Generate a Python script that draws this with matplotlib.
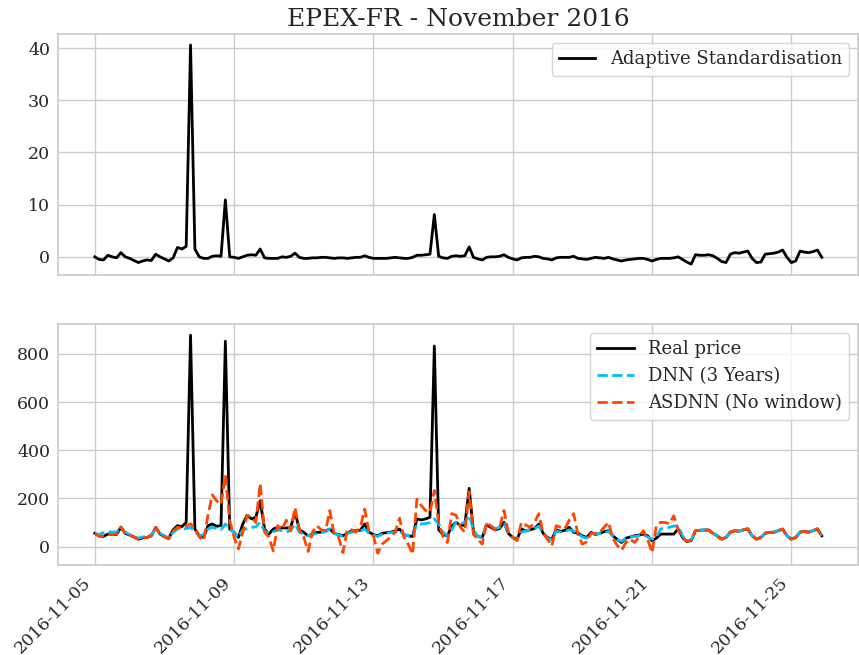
import numpy as np
import pandas as pd
import matplotlib
matplotlib.use('Agg')
import matplotlib.pyplot as plt
import matplotlib.dates as mdates

# 3-hourly samples, 2016-11-05 00:00 -> 2016-11-25 21:00 (8 values per day)
start = '2016-11-05 00:00'
freq = '3h'

adaptive_std = [
    0.0, -0.5, -0.6, 0.3, 0.0, -0.2, 0.8, 0.0,
    -0.3, -0.7, -1.1, -0.8, -0.6, -0.7, 0.5, 0.0,
    -0.4, -0.8, -0.2, 1.8, 1.5, 2.0, 40.6, 1.5,
    0.0, -0.3, -0.3, 0.1, 0.2, 0.1, 10.9, 0.0,
    -0.1, -0.3, 0.0, 0.3, 0.4, 0.3, 1.5, -0.2,
    -0.3, -0.3, -0.3, 0.0, -0.1, 0.1, 0.7, -0.1,
    -0.3, -0.3, -0.2, -0.2, -0.1, -0.1, -0.2, -0.3,
    -0.2, -0.2, -0.3, -0.2, -0.1, -0.1, 0.2, -0.1,
    -0.3, -0.3, -0.3, -0.3, -0.2, -0.1, -0.2, -0.3,
    -0.3, -0.1, 0.3, 0.3, 0.4, 0.5, 8.1, 0.1,
    -0.2, -0.3, 0.1, 0.2, 0.1, 0.2, 1.9, -0.1,
    -0.4, -0.6, -0.1, 0.0, 0.0, 0.1, 0.4, -0.1,
    -0.4, -0.6, -0.2, -0.1, -0.1, 0.1, 0.0, -0.3,
    -0.4, -0.6, -0.2, -0.1, -0.1, -0.1, 0.1, -0.3,
    -0.4, -0.5, -0.3, -0.1, -0.2, -0.3, -0.1, -0.4,
    -0.6, -0.8, -0.6, -0.5, -0.4, -0.3, -0.3, -0.5,
    -0.8, -0.5, -0.3, -0.3, -0.3, -0.2, 0.0, -0.5,
    -1.0, -1.4, 0.4, 0.3, 0.3, 0.4, 0.2, -0.3,
    -0.9, -1.1, 0.5, 0.8, 0.7, 0.9, 1.1, -0.3,
    -1.1, -1.0, 0.5, 0.6, 0.7, 0.9, 1.3, -0.1,
    -1.1, -0.8, 1.1, 0.9, 0.8, 1.0, 1.3, -0.1,
]

real_price = [
    55, 45, 42, 52, 50, 50, 80, 55,
    48, 40, 31, 36, 38, 45, 80, 52,
    42, 35, 70, 87, 83, 100, 878, 73,
    45, 38, 87, 94, 84, 88, 853, 73,
    59, 38, 94, 130, 115, 122, 190, 73,
    52, 73, 80, 78, 77, 80, 144, 70,
    59, 45, 52, 59, 60, 65, 73, 55,
    50, 45, 55, 66, 66, 68, 94, 60,
    50, 45, 55, 58, 60, 65, 73, 50,
    45, 42, 115, 111, 115, 122, 833, 70,
    50, 45, 85, 101, 87, 90, 242, 60,
    42, 38, 90, 80, 69, 75, 101, 55,
    38, 31, 73, 65, 70, 75, 94, 55,
    38, 31, 70, 63, 68, 80, 60, 55,
    45, 38, 59, 50, 55, 62, 66, 45,
    30, 17, 35, 40, 45, 48, 52, 45,
    24, 35, 52, 52, 52, 52, 73, 38,
    21, 25, 66, 68, 69, 69, 55, 45,
    31, 38, 60, 66, 64, 70, 73, 45,
    31, 38, 55, 59, 59, 66, 73, 45,
    31, 38, 60, 63, 60, 66, 73, 45,
]

dnn_3y = [
    55, 50, 58, 63, 60, 62, 72, 60,
    50, 42, 35, 40, 42, 50, 73, 55,
    45, 35, 60, 73, 73, 75, 80, 62,
    45, 50, 73, 80, 75, 70, 94, 73,
    59, 38, 70, 75, 80, 82, 101, 65,
    55, 62, 70, 66, 60, 68, 94, 60,
    50, 45, 50, 55, 58, 62, 73, 55,
    48, 42, 55, 60, 62, 65, 73, 55,
    48, 42, 52, 56, 58, 60, 66, 50,
    45, 42, 94, 94, 96, 100, 115, 94,
    60, 45, 70, 101, 95, 100, 130, 70,
    42, 38, 94, 85, 75, 80, 95, 60,
    35, 28, 60, 65, 70, 75, 85, 55,
    35, 30, 65, 60, 62, 70, 65, 55,
    40, 35, 55, 52, 55, 58, 63, 45,
    30, 22, 35, 40, 42, 45, 50, 40,
    31, 40, 73, 78, 80, 85, 87, 45,
    22, 28, 66, 68, 69, 69, 55, 45,
    31, 38, 62, 66, 64, 70, 75, 45,
    31, 38, 57, 59, 60, 66, 73, 45,
    31, 38, 62, 63, 60, 66, 75, 45,
]

asdnn = [
    55, 42, 45, 52, 50, 52, 82, 55,
    48, 40, 30, 36, 38, 45, 80, 50,
    40, 32, 65, 80, 78, 85, 95, 75,
    40, 25, 130, 215, 190, 175, 298, 108,
    40, -10, 60, 130, 120, 100, 262, 60,
    40, -18, 87, 70, 110, 65, 162, 70,
    40, -20, 60, 87, 70, 65, 150, 50,
    40, -25, 70, 70, 60, 80, 156, 60,
    45, -28, 10, 25, 40, 60, 118, 40,
    10, -32, 197, 170, 150, 142, 233, 100,
    40, 17, 137, 130, 80, 60, 228, 50,
    30, 10, 101, 85, 70, 80, 150, 60,
    40, 24, 101, 90, 80, 100, 137, 55,
    30, 3, 87, 80, 75, 110, 137, 50,
    10, 20, 55, 55, 60, 80, 101, 35,
    5, -15, 17, 31, 17, 40, 66, 30,
    -25, 87, 101, 100, 95, 128, 70, 35,
    22, 28, 68, 66, 68, 68, 55, 40,
    31, 38, 60, 66, 64, 70, 75, 45,
    31, 38, 57, 59, 60, 66, 73, 45,
    31, 38, 60, 63, 60, 66, 75, 45,
]

idx = pd.date_range(start, periods=len(real_price), freq=freq)

plt.rcParams['font.family'] = 'DejaVu Serif'
plt.rcParams['axes.edgecolor'] = '#cccccc'
plt.rcParams['axes.linewidth'] = 1.25
plt.rcParams['grid.color'] = '#cccccc'
plt.rcParams['grid.linewidth'] = 1.0
plt.rcParams['xtick.color'] = '#262626'
plt.rcParams['ytick.color'] = '#262626'
plt.rcParams['text.color'] = '#262626'

fig, (ax1, ax2) = plt.subplots(2, 1, sharex=True, figsize=(8.59, 6.55), dpi=100)
fig.subplots_adjust(left=0.068, right=0.999, top=0.948, bottom=0.137, hspace=0.204)

ax1.plot(idx, adaptive_std, color='black', lw=2, label='Adaptive Standardisation')
ax1.set_title('EPEX-FR - November 2016', fontsize=18)
ax1.legend(loc='upper right', fontsize=13)

ax2.plot(idx, real_price, color='black', lw=2, label='Real price')
ax2.plot(idx, dnn_3y, color='deepskyblue', lw=2, ls='--', label='DNN (3 Years)')
ax2.plot(idx, asdnn, color='orangered', lw=2, ls='--', label='ASDNN (No window)')
ax2.legend(loc='upper right', fontsize=13)

for ax in (ax1, ax2):
    ax.grid(True)
    ax.set_axisbelow(True)
    ax.tick_params(length=0, labelsize=12.5, pad=6)

ax2.xaxis.set_major_locator(mdates.DayLocator(bymonthday=[5, 9, 13, 17, 21, 25]))
ax2.xaxis.set_major_formatter(mdates.DateFormatter('%Y-%m-%d'))
plt.setp(ax2.get_xticklabels(), rotation=45, ha='right')

fig.savefig('out.png', dpi=100)
